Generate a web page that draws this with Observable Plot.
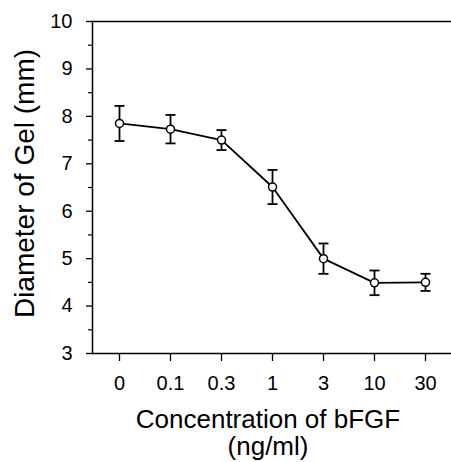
<!DOCTYPE html>
<html>
<head>
<meta charset="utf-8">
<script src="https://cdn.jsdelivr.net/npm/d3@7"></script>
<script src="https://cdn.jsdelivr.net/npm/@observablehq/plot@0.6"></script>
<style>
  html, body { margin: 0; padding: 0; background: #fff; }
  svg { display: block; }
</style>
</head>
<body>
<div id="chart"></div>
<script>
const concentrations = ["0", "0.1", "0.3", "1", "3", "10", "30"];
const diameters = [7.85, 7.73, 7.50, 6.51, 5.00, 4.49, 4.50];
const errors = [0.37, 0.30, 0.21, 0.36, 0.32, 0.26, 0.18];
const yTicks = [3, 4, 5, 6, 7, 8, 9, 10];
const yMinorTicks = [3.5, 4.5, 5.5, 6.5, 7.5, 8.5, 9.5];
const xTitle = "Concentration of bFGF\n(ng/ml)";
const yTitle = "Diameter of Gel (mm)";

const data = concentrations.map((c, i) => ({
  c, d: diameters[i], lo: diameters[i] - errors[i], hi: diameters[i] + errors[i]
}));

const capSymbol = {
  draw(context, size) {
    const r = Math.sqrt(size / Math.PI);
    context.moveTo(-r, 0);
    context.lineTo(r, 0);
  }
};

const font = "'Liberation Sans', Arial, Helvetica, sans-serif";

const chart = Plot.plot({
  width: 451,
  height: 462,
  marginLeft: 92,
  marginRight: 0,
  marginTop: 21,
  marginBottom: 109,
  style: {fontFamily: font, color: "#000", background: "#fff"},
  x: {type: "point", domain: concentrations, padding: 0.5},
  y: {domain: [3, 10]},
  marks: [
    Plot.ruleY([3, 10], {stroke: "#000", strokeWidth: 1.5}),
    Plot.frame({anchor: "left", stroke: "#000", strokeWidth: 1.5}),
    Plot.axisY(yTicks, {tickSize: 6, tickPadding: 14, fontSize: 20, label: null, strokeWidth: 1.3}),
    Plot.axisY(yMinorTicks, {tickSize: 4, tickPadding: 0, text: null, label: null, strokeWidth: 1.2}),
    Plot.axisX(concentrations, {tickSize: 8, tickPadding: 14, fontSize: 20, label: null, strokeWidth: 1.3}),
    Plot.ruleX(data, {x: "c", y1: "lo", y2: "hi", stroke: "#000", strokeWidth: 1.8}),
    Plot.line(data, {x: "c", y: "d", stroke: "#000", strokeWidth: 1.8}),
    Plot.dot(data, {x: "c", y: "hi", symbol: capSymbol, r: 5, stroke: "#000", strokeWidth: 1.8}),
    Plot.dot(data, {x: "c", y: "lo", symbol: capSymbol, r: 5, stroke: "#000", strokeWidth: 1.8}),
    Plot.dot(data, {x: "c", y: "d", r: 4, fill: "#fff", stroke: "#000", strokeWidth: 1.5}),
    Plot.text([xTitle], {frameAnchor: "bottom", textAnchor: "middle", lineAnchor: "top", dy: 55, dx: -4, fontSize: 26, fill: "#000", lineHeight: 1.05}),
    Plot.text([yTitle], {frameAnchor: "left", textAnchor: "middle", rotate: -90, lineAnchor: "bottom", dx: -59, dy: -4, fontSize: 28, fill: "#000"})
  ]
});
document.getElementById("chart").appendChild(chart);
</script>
</body>
</html>
